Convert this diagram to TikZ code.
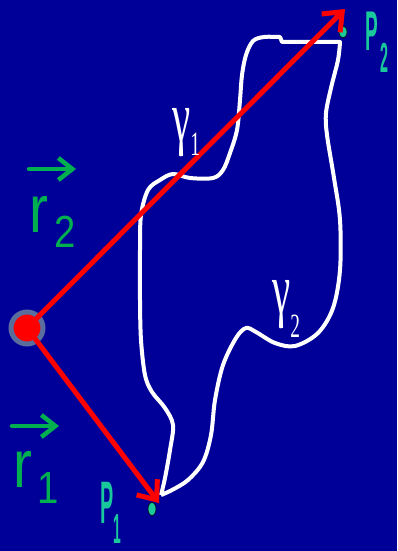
\documentclass[tikz,border=0pt]{standalone}
\usepackage{fontspec}
\setmainfont{Liberation Sans}
\newfontfamily\gammafont{Liberation Serif}
\usetikzlibrary{arrows.meta,positioning,calc,shapes.geometric}
\definecolor{bgblue}{HTML}{000099}
\definecolor{vecgreen}{HTML}{00B050}
\definecolor{ptteal}{HTML}{19C89B}
\definecolor{ringgray}{HTML}{5A6E9E}

\begin{document}
\begin{tikzpicture}[x=1pt,y=-1pt,inner sep=0pt,
    vec/.style={draw=red,line width=5pt,-{Straight Barb[length=16pt,width=26pt]}},
    rvec/.style={draw=vecgreen,line width=4.5pt,line cap=round,-{Straight Barb[length=14pt,width=22pt]}},
    lbl/.style={anchor=base west,text=vecgreen},
    plbl/.style={anchor=base west,text=ptteal,font=\bfseries},
    glbl/.style={anchor=base west,text=white,font=\gammafont}]
  \fill[bgblue] (0,0) rectangle (397,551);
  \useasboundingbox (0,0) rectangle (397,551);
  % path gamma_1 / gamma_2
  \draw[white,line width=4pt,line join=round]
    plot[smooth,tension=0.55] coordinates {(161,495) (165,478) (170,450) (173,425) (165,408) (152,392)
      (145,375) (141,340) (140,300) (140,250) (141,215) (148,190) (160,180) (173,174) (190,178)
      (213,178) (223,170) (230,153) (237,130) (240,100) (242,75) (246,55) (253,41) (264,37) (280,37)}
    -- (282,42) -- (340,42)
    -- plot[smooth,tension=0.55] coordinates {(340,42) (338,60) (331,88) (326,113) (327,135) (334,178)
      (340,220) (340,270) (333,308) (318,333) (295,346) (275,343) (256,332) (246,328) (236,338)
      (223,365) (215,400) (211,435) (203,462) (188,480) (172,490) (161,495)};
  % origin and end points
  \node[circle,fill=red,draw=ringgray,line width=5pt,minimum size=32pt] (O) at (27,328) {};
  \node[ellipse,fill=ptteal,draw=black,line width=0.6pt,minimum width=8pt,minimum height=13pt] (P1) at (152,509) {};
  \node[ellipse,fill=ptteal,draw=black,line width=0.6pt,minimum width=8pt,minimum height=12pt] (P2) at (343,32) {};
  \coordinate (tip1) at (159,503);
  \coordinate (tip2) at (345,9);
  \draw[vec] (O.center) -- (tip2);
  \draw[vec] (O.center) -- (tip1);
  % labels
  \coordinate (a2s) at (29,169); \coordinate (a2e) at (76,169);
  \coordinate (a1s) at (12,426); \coordinate (a1e) at (59,426);
  \draw[rvec] (a2s) -- (a2e);
  \draw[rvec] (a1s) -- (a1e);
  \node[lbl] (r2) at (29,232) {\scalebox{0.85}[1]{\fontsize{67}{67}\selectfont r\hspace{8pt}\raisebox{-15pt}{\fontsize{45}{45}\selectfont 2}}};
  \node[lbl] (r1) at (13,487) {\scalebox{0.85}[1]{\fontsize{67}{67}\selectfont r\hspace{6pt}\raisebox{-16pt}{\fontsize{45}{45}\selectfont 1}}};
  \node[plbl] (p1lbl) at (100,523) {\scalebox{0.33}[1]{\fontsize{60}{60}\selectfont P\raisebox{-20pt}{\fontsize{42}{42}\selectfont 1}}};
  \node[plbl] (p2lbl) at (365,51) {\scalebox{0.34}[1]{\fontsize{56}{56}\selectfont P\hspace{8pt}\raisebox{-22pt}{\fontsize{42}{42}\selectfont 2}}};
  \node[glbl] (g1) at (172,141) {\scalebox{0.57}[1]{\fontsize{72}{72}\selectfont γ\raisebox{-14pt}{\fontsize{34}{34}\selectfont 1}}};
  \node[glbl] (g2) at (272,313) {\scalebox{0.57}[1]{\fontsize{72}{72}\selectfont γ\raisebox{-24pt}{\fontsize{34}{34}\selectfont 2}}};
\end{tikzpicture}
\end{document}
